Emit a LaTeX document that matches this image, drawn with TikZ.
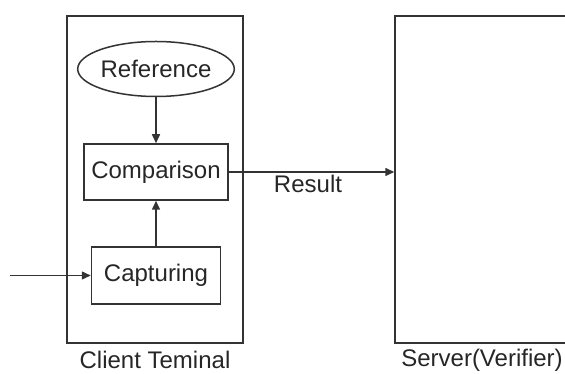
\documentclass[tikz,border=0pt]{standalone}
\usepackage{fontspec}
\setmainfont{Liberation Sans}
\usetikzlibrary{arrows.meta,shapes.geometric}
\tikzset{
	blk/.style={draw=black!80,line width=1.5pt,minimum width=#1,inner sep=0pt},
	arr/.style={draw=black!80,line width=1.5pt,-{Triangle[length=9pt,width=8pt]}},
}
\begin{document}
\begin{tikzpicture}[x=1pt,y=1pt,font=\fontsize{24}{28}\selectfont,text=black!85]
		\useasboundingbox (0,0) rectangle (565,374);
		\def\mx{156}
		% the two outer boxes
		\node[blk=176pt,minimum height=327pt] (client) at (155,194.5) {};
		\node[blk=184pt,minimum height=327pt] (server) at (487,194.5) {};
		\node (clientlbl) at (155,14) {Client Teminal};
		\node (serverlbl) at (482,14) {Server(Verifier)};
%
		\node[blk=136pt,minimum height=55pt,ellipse] (reference) at (\mx,305) {Reference};
		\node[blk=144pt,minimum height=56pt] (comparison) at (\mx,202) {Comparison};
		\node[blk=129pt,minimum height=57pt] (capturing) at (\mx,98.5) {Capturing};
		\coordinate (input) at (10,98.5);
		\draw[arr] (reference) -- (comparison);
		\draw[arr] (capturing) -- (comparison);
		\draw[arr] (input) -- (capturing);
		\draw[arr] (comparison.east) -- (server.west |- comparison.east);
			\node (result) at (308,190) {Result};
		\end{tikzpicture}
\end{document}
